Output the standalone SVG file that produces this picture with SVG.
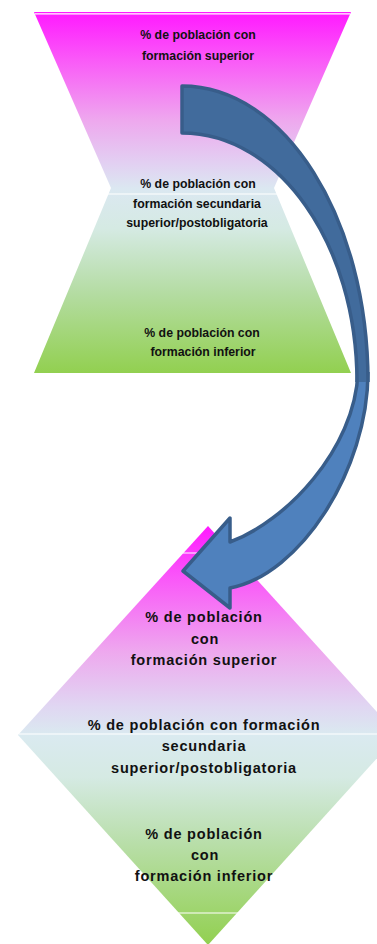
<svg xmlns="http://www.w3.org/2000/svg" width="377" height="944" viewBox="0 0 377 944">
<style>
.t{font-family:"Liberation Sans",Arial,sans-serif;font-weight:bold;fill:#111;text-anchor:middle}
.s{font-size:12.3px}
.b{font-size:14.5px;letter-spacing:0.8px}
.sep{stroke:#ffffff;stroke-width:1.2}
.edge{fill:none;stroke:#385D8A;stroke-width:3.5;stroke-linejoin:round;stroke-linecap:butt}
</style>
<defs>
<linearGradient id="gTop" x1="0" y1="0" x2="0" y2="1">
<stop offset="0" stop-color="#FF19FF"/>
<stop offset="0.13" stop-color="#FA58F8"/>
<stop offset="0.3" stop-color="#EEA8EE"/>
<stop offset="0.42" stop-color="#E2D0F2"/>
<stop offset="0.49" stop-color="#DBE8F1"/>
<stop offset="0.6" stop-color="#D5EAE3"/>
<stop offset="0.78" stop-color="#B4DCA2"/>
<stop offset="1" stop-color="#92D050"/>
</linearGradient>
<linearGradient id="gDia" x1="0" y1="0" x2="0" y2="1">
<stop offset="0" stop-color="#FF19FF"/>
<stop offset="0.12" stop-color="#FA55F9"/>
<stop offset="0.3" stop-color="#EEA8EE"/>
<stop offset="0.43" stop-color="#E0D6F2"/>
<stop offset="0.5" stop-color="#DAEAF0"/>
<stop offset="0.6" stop-color="#D5EAE3"/>
<stop offset="0.76" stop-color="#B8DEA8"/>
<stop offset="1" stop-color="#92D050"/>
</linearGradient>
</defs>

<g id="top-shape">
<polygon points="34,12 351,12 274,188 351,373 34,373 111,188" fill="url(#gTop)"/>
<line class="sep" x1="35" y1="13.8" x2="350" y2="13.8"/>
<line class="sep" x1="108" y1="194" x2="277" y2="194"/>
<text class="t s" x="198" y="39">% de población con</text>
<text class="t s" x="198" y="60">formación superior</text>
<text class="t s" x="198" y="188">% de población con</text>
<text class="t s" x="197" y="208">formación secundaria</text>
<text class="t s" x="197" y="227">superior/postobligatoria</text>
<text class="t s" x="202" y="336.5">% de población con</text>
<text class="t s" x="203" y="356">formación inferior</text>
</g>

<g id="diamond">
<polygon points="208,526 398,735 208,945 18,735" fill="url(#gDia)"/>
<line class="sep" x1="183" y1="553" x2="233" y2="553"/>
<line class="sep" x1="19" y1="734" x2="377" y2="734"/>
<line class="sep" x1="176" y1="913" x2="240" y2="913"/>
<text class="t b" x="204" y="622">% de población</text>
<text class="t b" x="205" y="643.5">con</text>
<text class="t b" x="204" y="664.5">formación superior</text>
<text class="t b" x="204" y="729.5">% de población con formación</text>
<text class="t b" x="204" y="751">secundaria</text>
<text class="t b" x="204" y="772.5">superior/postobligatoria</text>
<text class="t b" x="204" y="838.5">% de población</text>
<text class="t b" x="205" y="860">con</text>
<text class="t b" x="204" y="881">formación inferior</text>
</g>

<g id="connectors">
<path fill="#4F81BD" d="M368,372 C368,470 300,575 230,588 L230,608 L183,571 L230,518 L230,542 C285,522 355,450 358,372 Z"/>
<path class="edge" d="M368,372 C368,470 300,575 230,588 L230,608 L183,571 L230,518 L230,542 C285,522 355,450 358,372"/>
<path fill="#416B9C" d="M182,86 C284.7,86 368,217.7 368,382 L357,382 C357,243.7 278.6,133 182,133 Z"/>
<path class="edge" d="M368,382 C368,217.7 284.7,86 182,86 L182,133 C278.6,133 357,243.7 357,382"/>
</g>
</svg>
